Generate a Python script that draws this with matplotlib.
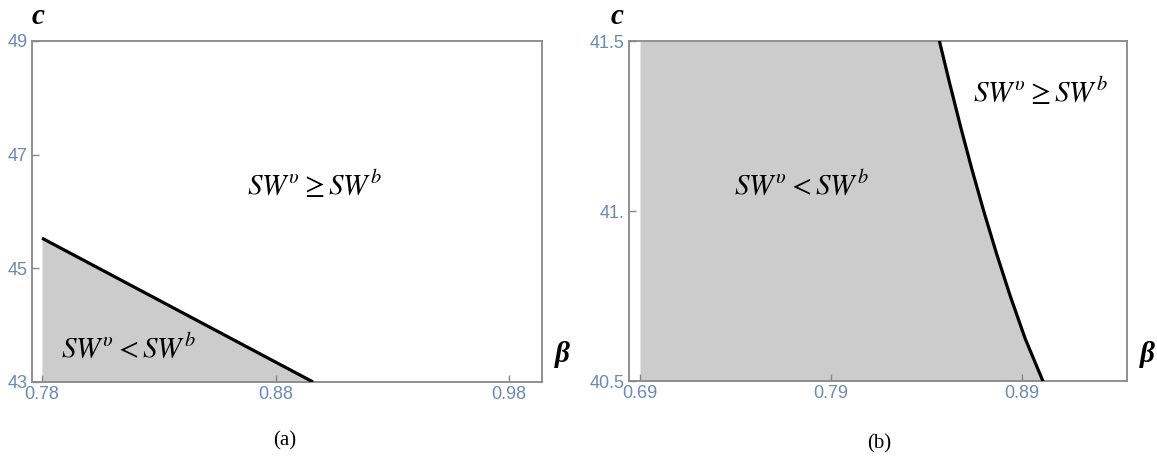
import matplotlib
matplotlib.use("Agg")
import matplotlib.pyplot as plt
import numpy as np

plt.rcParams['mathtext.fontset'] = 'stix'

# Panel (a) data
a_xticks = [0.78, 0.88, 0.98]
a_xticklabels = ["0.78", "0.88", "0.98"]
a_yticks = [43, 45, 47, 49]
a_yticklabels = ["43", "45", "47", "49"]
a_line_beta = [0.78, 0.896]
a_line_c = [45.53, 43.0]

# Panel (b) data
b_yticks = [40.5, 41.0, 41.5]
b_yticklabels = ["40.5", "41.", "41.5"]
b_xticks = [0.69, 0.79, 0.89]
b_xticklabels = ["0.69", "0.79", "0.89"]
b_curve_c = [41.5, 41.375, 41.25, 41.125, 41.0, 40.875, 40.75, 40.625, 40.5]
b_curve_beta = [0.8468, 0.8522, 0.8578, 0.8637, 0.8700, 0.8767, 0.8839, 0.8917, 0.9010]

label_ge = r"$SW^{\upsilon} \geq SW^{b}$"
label_lt = r"$SW^{\upsilon} < SW^{b}$"

fig = plt.figure(figsize=(11.57, 4.61), dpi=100)
ax_a = fig.add_axes([0.02766, 0.1714, 0.4408, 0.7397])
ax_b = fig.add_axes([0.5436, 0.1735, 0.4304, 0.7375])

spine_col = '#888888'
tick_col = '#6a8ab5'
shade = '#cccccc'
serif = ['Liberation Serif', 'DejaVu Serif']
tickfont = ['Liberation Sans Narrow', 'Liberation Sans', 'DejaVu Sans']

def style(ax, xlim, ylim, xt, xtl, yt, ytl):
    ax.set_xlim(*xlim)
    ax.set_ylim(*ylim)
    ax.set_xticks(xt)
    ax.set_xticklabels(xtl)
    ax.set_yticks(yt)
    ax.set_yticklabels(ytl)
    for s in ax.spines.values():
        s.set_color(spine_col)
        s.set_linewidth(1.3)
    ax.tick_params(direction='in', length=5, width=1.0, color=spine_col,
                   labelcolor=tick_col, labelsize=13, pad=3)
    for lab in ax.get_xticklabels() + ax.get_yticklabels():
        lab.set_family(tickfont)

# (a)
ax = ax_a
xa = np.array(a_line_beta)
ya = np.array(a_line_c)
ax.fill_between(xa, 43.0, ya, color=shade, lw=0, zorder=1)
ax.plot(xa, ya, color='black', lw=2.3, zorder=3, solid_capstyle='butt')
style(ax, (0.7757, 0.994), (43, 49), a_xticks, a_xticklabels, a_yticks, a_yticklabels)
ax.text(0.8967, 46.47, label_ge, fontsize=21, ha='center', va='center')
ax.text(0.8168, 43.6, label_lt, fontsize=21, ha='center', va='center')

# (b)
ax = ax_b
ax.fill_betweenx(b_curve_c, 0.69, b_curve_beta, color=shade, lw=0, zorder=1)
ax.plot(b_curve_beta, b_curve_c, color='black', lw=2.3, zorder=3)
style(ax, (0.6842, 0.945), (40.5, 41.5), b_xticks, b_xticklabels, b_yticks, b_yticklabels)
ax.text(0.7747, 41.076, label_lt, fontsize=21, ha='center', va='center')
ax.text(0.8995, 41.35, label_ge, fontsize=21, ha='center', va='center')

# axis labels
for xc, xb in [(38, 562), (617, 1147)]:
    fig.text(xc / 1157, 1 - 16 / 461, "c", family=serif, style='italic',
             weight='bold', fontsize=21, ha='center', va='center')
    fig.text(xb / 1157, 1 - 355 / 461, "β", family=serif, style='italic',
             weight='bold', fontsize=21, ha='center', va='center')

fig.text(285 / 1157, 1 - 441 / 461, "(a)", family=serif, fontsize=15,
         ha='center', va='center')
fig.text(879 / 1157, 1 - 444 / 461, "(b)", family=serif, fontsize=15,
         ha='center', va='center')

fig.savefig("out.png", dpi=100)
